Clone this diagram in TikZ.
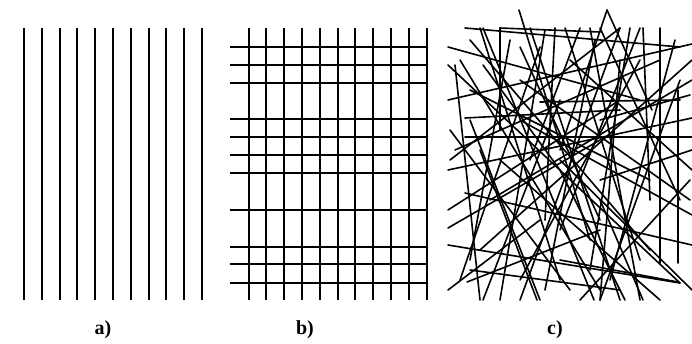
\documentclass[tikz,border=0pt]{standalone}
\usepackage{fontspec}
\setmainfont{Liberation Serif}
\usetikzlibrary{calc}

\begin{document}
\begin{tikzpicture}[x=1pt, y=-1pt,
    fibre/.style={line width=2pt, black},
    thread/.style={line width=1.6pt, black, line cap=round},
    panel label/.style={font=\fontsize{20}{24}\selectfont\bfseries}]
  \useasboundingbox (0,0) rectangle (692,343);
  % a) parallel fibres
  \foreach \i in {0,...,10}
  {
    \draw[fibre] ({24+17.8*\i},28) -- ({24+17.8*\i},300);
  }
  % b) grid: vertical fibres
  \foreach \i in {0,...,10}
  {
    \draw[fibre] ({248.5+17.8*\i},28) -- ({248.5+17.8*\i},300);
  }
  % b) grid: horizontal fibres
  \foreach \y in {46.7, 65, 82.7, 119, 136.7, 155, 173.3, 210, 246.7, 264.3, 282.7}
  {
    \draw[fibre] (230,\y) -- (428,\y);
  }
  % c) random fibres
  \foreach \xa/\ya/\xb/\yb in {
    465/28/680/47, 500/28/600/32, 448/47/640/100, 448/100/692/44,
    465/118/620/110, 465/137/692/137, 465/193/692/245, 448/245/680/283,
    467/282/600/230, 448/210/620/100, 448/228/600/140, 560/260/678/282,
    448/170/692/118, 540/102/680/100, 519/10/590/240, 483/28/594/300,
    483/65/560/170, 520/47/600/220, 455/65/480/300, 500/28/500/130,
    607/10/652/110, 607/10/560/150, 643/28/650/200, 660/28/660/263,
    678/90/678/263, 530/28/620/300, 483/300/560/100, 537/300/480/150,
    625/300/560/170, 643/300/600/200, 600/300/680/80, 520/300/620/28,
    460/280/540/47, 448/65/680/283, 470/40/650/250, 560/160/692/290,
    450/160/620/28, 480/250/692/60, 580/28/530/160, 640/28/560/230,
    470/120/540/300, 590/28/640/300, 620/60/600/300, 555/28/545/220,
    690/180/580/300, 448/290/540/220, 520/120/692/215, 470/270/620/290,
    600/180/692/150, 570/60/692/170, 690/95/600/120,
    % extra threads for density
    480/28/560/280, 510/40/470/260, 545/30/500/300, 565/28/640/260,
    595/40/545/290, 630/28/590/270, 470/90/650/180, 455/150/660/60,
    490/200/692/80, 460/60/600/290, 640/60/520/280, 675/40/610/280,
    450/130/570/290, 600/28/680/200, 500/160/660/300, 520/80/690/200
  }
  {
    \draw[thread] (\xa,\ya) -- (\xb,\yb);
  }
  % labels
  \node[panel label] (labelA) at (103,330) {a)};
  \node[panel label] (labelB) at (305,330) {b)};
  \node[panel label] (labelC) at (555,330) {c)};
\end{tikzpicture}
\end{document}
